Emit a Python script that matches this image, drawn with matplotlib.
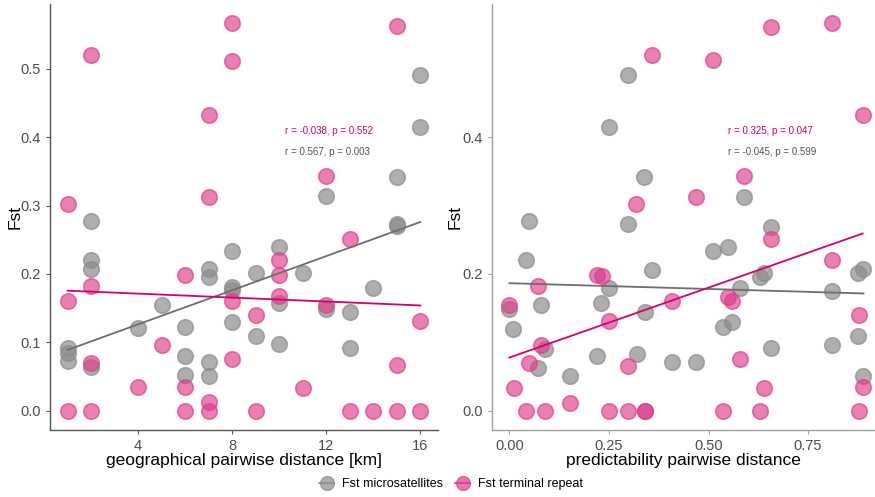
import numpy as np
import matplotlib
matplotlib.use("Agg")
import matplotlib.pyplot as plt
from matplotlib.lines import Line2D

plt.rcParams['font.family'] = ['Liberation Sans', 'DejaVu Sans']

# geographical distance panel
geo_ms_x = [1, 1, 1, 2, 2, 2, 2, 4, 5, 6, 6, 6, 7, 7, 7, 7, 8, 8, 8, 8,
            9, 9, 10, 10, 10, 11, 12, 12, 13, 13, 14, 15, 15, 15, 16, 16]
geo_ms_y = [0.092, 0.085, 0.072, 0.278, 0.221, 0.207, 0.064, 0.121, 0.155,
            0.123, 0.080, 0.052, 0.207, 0.195, 0.071, 0.050, 0.234, 0.181,
            0.177, 0.129, 0.202, 0.109, 0.239, 0.157, 0.097, 0.202, 0.314,
            0.148, 0.144, 0.091, 0.179, 0.342, 0.273, 0.270, 0.491, 0.415]
geo_tr_x = [1, 1, 1, 2, 2, 2, 2, 4, 5, 6, 6, 6, 7, 7, 7, 7, 8, 8, 8, 8,
            9, 9, 10, 10, 10, 11, 12, 12, 13, 13, 14, 15, 15, 15, 16, 16]
geo_tr_y = [0.303, 0.161, 0.0, 0.521, 0.182, 0.070, 0.0, 0.034, 0.096,
            0.198, 0.035, 0.0, 0.433, 0.312, 0.012, 0.0, 0.567, 0.512,
            0.161, 0.075, 0.140, 0.0, 0.221, 0.198, 0.167, 0.033, 0.343,
            0.155, 0.251, 0.0, 0.0, 0.563, 0.066, 0.0, 0.131, 0.0]

# predictability distance panel
pred_ms_x = [0.000, 0.009, 0.042, 0.049, 0.071, 0.080, 0.090, 0.151, 0.220,
             0.230, 0.251, 0.251, 0.299, 0.299, 0.320, 0.339, 0.340, 0.359,
             0.409, 0.469, 0.511, 0.537, 0.550, 0.560, 0.579, 0.588, 0.630,
             0.640, 0.657, 0.658, 0.809, 0.809, 0.876, 0.876, 0.887, 0.889]
pred_ms_y = [0.148, 0.120, 0.221, 0.278, 0.063, 0.155, 0.090, 0.050, 0.080,
             0.158, 0.179, 0.415, 0.491, 0.273, 0.083, 0.342, 0.144, 0.206,
             0.071, 0.071, 0.234, 0.122, 0.239, 0.129, 0.179, 0.313, 0.196,
             0.202, 0.269, 0.091, 0.175, 0.096, 0.202, 0.109, 0.051, 0.207]
pred_tr_x = [0.000, 0.011, 0.042, 0.049, 0.071, 0.080, 0.090, 0.151, 0.220,
             0.232, 0.251, 0.251, 0.299, 0.299, 0.319, 0.340, 0.340, 0.359,
             0.409, 0.468, 0.510, 0.537, 0.548, 0.560, 0.579, 0.588, 0.630,
             0.640, 0.657, 0.657, 0.809, 0.809, 0.878, 0.887, 0.878, 0.887]
pred_tr_y = [0.155, 0.033, 0.0, 0.069, 0.182, 0.096, 0.0, 0.011, 0.198,
             0.197, 0.131, 0.0, 0.065, 0.0, 0.303, 0.0, 0.0, 0.521,
             0.161, 0.312, 0.513, 0.0, 0.166, 0.160, 0.075, 0.343, 0.0,
             0.033, 0.562, 0.251, 0.567, 0.221, 0.140, 0.035, 0.0, 0.433]

geo_stats = ["r = -0.038, p = 0.552", "r = 0.567, p = 0.003"]
pred_stats = ["r = 0.325, p = 0.047", "r = -0.045, p = 0.599"]

grey = '#8c8c8c'
pink = '#dd3c8c'
grey_line = '#6e6e6e'
pink_line = '#d6006f'

fig = plt.figure(figsize=(8.75, 4.97), dpi=100)
ax1 = fig.add_axes([50/875, 67/497, 388/875, 426/497])
ax2 = fig.add_axes([491.7/875, 67/497, 383.3/875, 426/497])


def panel(ax, ms_x, ms_y, tr_x, tr_y, stats, stat_x, spine_col):
    ax.scatter(ms_x, ms_y, s=125, color=grey, alpha=0.7, edgecolors=grey,
               linewidths=1.2, zorder=2)
    ax.scatter(tr_x, tr_y, s=125, color=pink, alpha=0.65, edgecolors=pink,
               linewidths=1.2, zorder=3)
    # linear fits
    for xs, ys, c in [(ms_x, ms_y, grey_line), (tr_x, tr_y, pink_line)]:
        k, b = np.polyfit(xs, ys, 1)
        xx = np.array([min(xs), max(xs)])
        ax.plot(xx, k * xx + b, color=c, lw=1.3, zorder=4)
    ax.text(stat_x, 0.409, stats[0], color=pink_line, fontsize=7,
            va='center', ha='left')
    ax.text(stat_x, 0.378, stats[1], color='#555555', fontsize=7,
            va='center', ha='left')
    for s in ['top', 'right']:
        ax.spines[s].set_visible(False)
    for s in ['left', 'bottom']:
        ax.spines[s].set_color(spine_col)
        ax.spines[s].set_linewidth(1.0)
    ax.tick_params(colors='#4d4d4d', labelsize=10.5, length=3, width=0.8)
    ax.tick_params(axis='both', color=spine_col)
    ax.set_ylim(-0.0284, 0.595)
    ax.set_ylabel('Fst', fontsize=12.5, color='black')


panel(ax1, geo_ms_x, geo_ms_y, geo_tr_x, geo_tr_y, geo_stats, 10.24, '#555555')
ax1.set_xlim(0.25, 16.75)
ax1.set_xticks([4, 8, 12, 16])
ax1.set_yticks([0.0, 0.1, 0.2, 0.3, 0.4, 0.5])
ax1.set_xlabel('geographical pairwise distance [km]', fontsize=12.5)
ax1.yaxis.set_label_coords(-0.07, 0.5)
ax1.xaxis.set_label_coords(0.5, -0.055)

panel(ax2, pred_ms_x, pred_ms_y, pred_tr_x, pred_tr_y, pred_stats, 0.549, '#a0a0a0')
ax2.set_xlim(-0.0445, 0.918)
ax2.set_xticks([0.0, 0.25, 0.5, 0.75])
ax2.set_xticklabels(['0.00', '0.25', '0.50', '0.75'])
ax2.set_yticks([0.0, 0.2, 0.4])
ax2.set_xlabel('predictability pairwise distance', fontsize=12.5)
ax2.yaxis.set_label_coords(-0.075, 0.5)
ax2.xaxis.set_label_coords(0.5, -0.055)

handles = [
    Line2D([0], [0], color=grey_line, marker='o', markersize=10,
           markerfacecolor=grey, markeredgecolor=grey, alpha=0.7, lw=1.3),
    Line2D([0], [0], color=pink_line, marker='o', markersize=10,
           markerfacecolor=pink, markeredgecolor=pink, alpha=0.7, lw=1.3),
]
fig.legend(handles, ['Fst microsatellites', 'Fst terminal repeat'],
           loc='center', bbox_to_anchor=(451/875, 1 - 484/497), ncol=2,
           frameon=False, fontsize=9, handlelength=1.2, handletextpad=0.6,
           columnspacing=1.0)

fig.savefig('out.png', dpi=100)
